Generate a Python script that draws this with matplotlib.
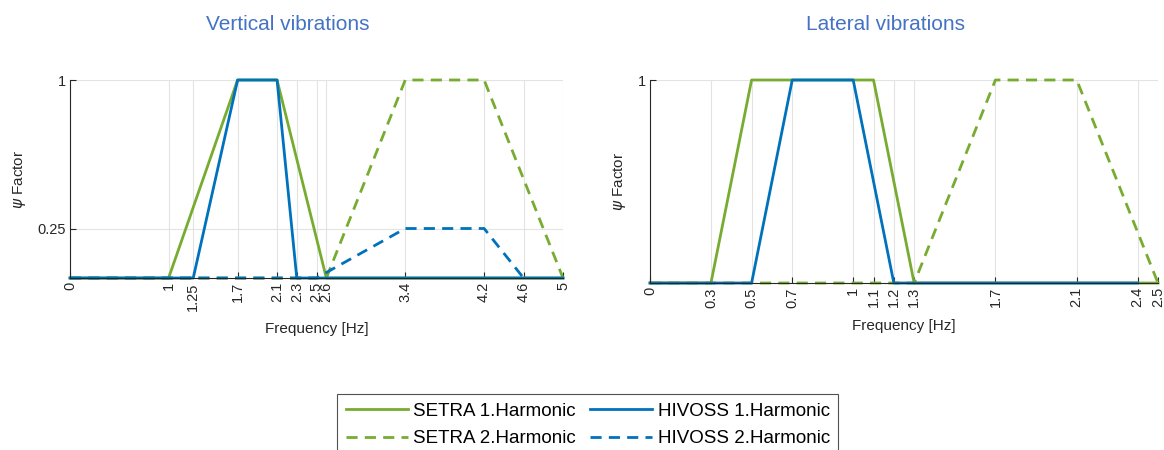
import matplotlib
matplotlib.use("Agg")
import matplotlib.pyplot as plt

plt.rcParams['font.family'] = ['Liberation Sans', 'DejaVu Sans']
plt.rcParams['mathtext.fontset'] = 'dejavusans'

GREEN = "#77AC30"
BLUE = "#0072BD"
TITLE_COLOR = "#4472C4"
TEXT_COLOR = "#262626"

# vertical vibrations
v_setra1_x = [0, 1, 1.7, 2.1, 2.6, 5]
v_setra1_y = [0, 0, 1, 1, 0, 0]
v_hivoss1_x = [0, 1.25, 1.7, 2.1, 2.3, 5]
v_hivoss1_y = [0, 0, 1, 1, 0, 0]
v_setra2_x = [0, 2.6, 3.4, 4.2, 5]
v_setra2_y = [0, 0, 1, 1, 0]
v_hivoss2_x = [0, 2.5, 3.4, 4.2, 4.6]
v_hivoss2_y = [0, 0, 0.25, 0.25, 0]
v_xticks = [0, 1, 1.25, 1.7, 2.1, 2.3, 2.5, 2.6, 3.4, 4.2, 4.6, 5]
v_xticklabels = ["0", "1", "1.25", "1.7", "2.1", "2.3", "2.5", "2.6", "3.4", "4.2", "4.6", "5"]
v_yticks = [0.25, 1]
v_yticklabels = ["0.25", "1"]

# lateral vibrations
l_setra1_x = [0, 0.3, 0.5, 1.1, 1.3, 2.5]
l_setra1_y = [0, 0, 1, 1, 0, 0]
l_hivoss1_x = [0, 0.5, 0.7, 1.0, 1.2, 2.4]
l_hivoss1_y = [0, 0, 1, 1, 0, 0]
l_setra2_x = [0, 1.3, 1.7, 2.1, 2.5]
l_setra2_y = [0, 0, 1, 1, 0]
l_xticks = [0, 0.3, 0.5, 0.7, 1, 1.1, 1.2, 1.3, 1.7, 2.1, 2.4, 2.5]
l_xticklabels = ["0", "0.3", "0.5", "0.7", "1", "1.1", "1.2", "1.3", "1.7", "2.1", "2.4", "2.5"]
l_yticks = [1]
l_yticklabels = ["1"]

W, H = 1164, 450
DASH = (0, (4, 2.6))


def setup_axes(ax, title, xmax, xticks, xticklabels, yticks, yticklabels, title_x):
    ax.set_xlim(0, xmax)
    ax.set_ylim(0, 1)
    ax.set_xticks(xticks)
    ax.set_xticklabels(xticklabels, rotation=90)
    ax.set_yticks(yticks)
    ax.set_yticklabels(yticklabels)
    ax.tick_params(direction="in", length=4, width=0.8, labelsize=10.5,
                   colors=TEXT_COLOR, pad=3)
    ax.grid(True, color="#e3e3e3", linewidth=0.8)
    ax.set_axisbelow(True)
    for s in ["top", "right"]:
        ax.spines[s].set_visible(False)
    for s in ["left", "bottom"]:
        ax.spines[s].set_color(TEXT_COLOR)
        ax.spines[s].set_linewidth(0.8)
    ax.set_title(title, color=TITLE_COLOR, fontsize=15, pad=36, x=title_x)
    ax.set_xlabel("Frequency [Hz]", fontsize=11, color=TEXT_COLOR, labelpad=8)
    ax.set_ylabel(r"$\psi$ Factor", fontsize=11, color=TEXT_COLOR)


fig = plt.figure(figsize=(W / 100, H / 100), dpi=100)

ax1 = fig.add_axes([70 / W, 1 - 278 / H, (563 - 70) / W, (278 - 80) / H])
ax2 = fig.add_axes([650 / W, 1 - 283 / H, (1158 - 650) / W, (283 - 80) / H])

lw = 2.0
s1, = ax1.plot(v_setra1_x, v_setra1_y, color=GREEN, lw=lw, clip_on=False)
s2, = ax1.plot(v_setra2_x, v_setra2_y, color=GREEN, lw=lw, ls=DASH, clip_on=False)
h2, = ax1.plot(v_hivoss2_x, v_hivoss2_y, color=BLUE, lw=lw, ls=DASH, clip_on=False)
h1, = ax1.plot(v_hivoss1_x, v_hivoss1_y, color=BLUE, lw=lw, clip_on=False)

ax2.plot(l_setra1_x, l_setra1_y, color=GREEN, lw=lw, clip_on=False)
ax2.plot(l_setra2_x, l_setra2_y, color=GREEN, lw=lw, ls=DASH, clip_on=False)
ax2.plot(l_hivoss1_x, l_hivoss1_y, color=BLUE, lw=lw, clip_on=False)

setup_axes(ax1, "Vertical vibrations", 5, v_xticks, v_xticklabels,
           v_yticks, v_yticklabels, (288 - 70) / (563 - 70))
setup_axes(ax2, "Lateral vibrations", 2.5, l_xticks, l_xticklabels,
           l_yticks, l_yticklabels, (885 - 650) / (1158 - 650))

ax1.yaxis.set_label_coords((28 - 70) / (563 - 70), 0.5)
ax2.yaxis.set_label_coords((628 - 650) / (1158 - 650), 0.5)

leg = fig.legend([s1, s2, h1, h2],
                 ["SETRA 1.Harmonic", "SETRA 2.Harmonic", "HIVOSS 1.Harmonic", "HIVOSS 2.Harmonic"],
                 loc="upper left", bbox_to_anchor=(328 / W, 1 - 385 / H),
                 ncol=2, fontsize=13.5, frameon=True, fancybox=False,
                 handlelength=3.3, handletextpad=0.3, columnspacing=0.75,
                 labelspacing=0.55, borderpad=0.45)
leg.get_frame().set_edgecolor("#262626")
leg.get_frame().set_linewidth(0.8)

fig.savefig("out.png", dpi=100)
